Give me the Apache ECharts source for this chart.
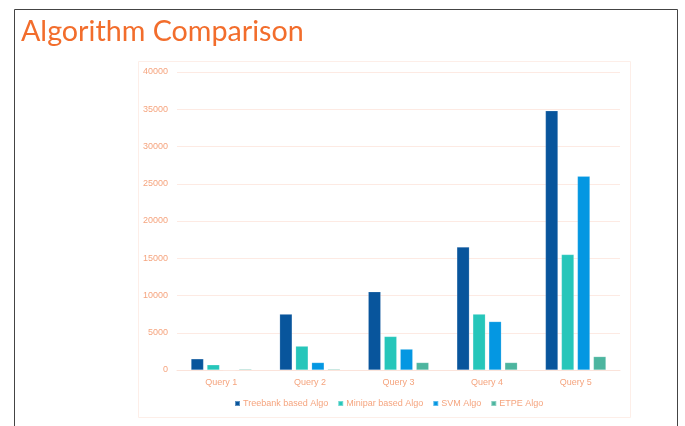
<!DOCTYPE html>
<html>
<head>
<meta charset="utf-8">
<script src="https://cdn.jsdelivr.net/npm/echarts@6/dist/echarts.min.js"></script>
<style>
html,body{margin:0;padding:0;background:#fff;}
#chart{width:685px;height:426px;}
</style>
</head>
<body>
<div id="chart"></div>
<script>
const categories = ['Query 1', 'Query 2', 'Query 3', 'Query 4', 'Query 5'];
const seriesNames = ['Treebank based Algo', 'Minipar based Algo', 'SVM Algo', 'ETPE Algo'];
const treebank = [1500, 7500, 10500, 16500, 34800];
const minipar = [700, 3200, 4500, 7500, 15500];
const svm = [0, 1000, 2800, 6500, 26000];
const etpe = [120, 120, 1000, 1000, 1800];
const yTicks = { min: 0, max: 40000, interval: 5000 };
const colors = ['#08559c', '#26c6ba', '#0497e2', '#4cb59f'];

const labelColor = '#f5a47e';
const values = [treebank, minipar, svm, etpe];

const chart = echarts.init(document.getElementById('chart'), null, { renderer: 'canvas' });
chart.setOption({
  animation: false,
  backgroundColor: '#ffffff',
  title: {
    text: 'Algorithm Comparison',
    left: 16, top: 12,
    textStyle: { fontFamily: 'Lato', fontWeight: 'normal', fontSize: 28.7, color: '#f26d2c' }
  },
  graphic: [
    { type: 'rect', shape: { x: 14.5, y: 9.5, width: 663, height: 430 }, style: { fill: 'none', stroke: '#444', lineWidth: 1 }, silent: true },
    { type: 'rect', shape: { x: 138.5, y: 61.5, width: 492, height: 356 }, style: { fill: 'none', stroke: '#fdeee8', lineWidth: 1 }, silent: true }
  ],
  legend: {
    data: seriesNames,
    bottom: 13,
    left: 229,
    itemWidth: 5, itemHeight: 5, itemGap: 9,
    icon: 'rect',
    textStyle: { color: labelColor, fontSize: 9, fontFamily: 'Liberation Sans', padding: [0, 0, 0, -2] }
  },
  grid: { left: 177, right: 65, top: 72, bottom: 56, containLabel: false },
  xAxis: {
    type: 'category',
    data: categories,
    axisTick: { show: false },
    axisLine: { lineStyle: { color: '#fbe3da' } },
    axisLabel: { color: labelColor, fontSize: 9, fontFamily: 'Liberation Sans', margin: 8 }
  },
  yAxis: {
    type: 'value',
    min: yTicks.min, max: yTicks.max, interval: yTicks.interval,
    axisLine: { show: false },
    axisTick: { show: false },
    splitLine: { lineStyle: { color: '#fdeae3' } },
    axisLabel: { color: labelColor, fontSize: 9, fontFamily: 'Liberation Sans', margin: 9, formatter: v => String(v) }
  },
  series: seriesNames.map((name, i) => ({
    name: name,
    type: 'bar',
    data: values[i],
    barWidth: 12.5,
    barGap: '28%',
    itemStyle: { color: colors[i], borderColor: 'rgba(255,255,255,0.35)', borderWidth: 0.5 }
  }))
});
</script>
</body>
</html>
